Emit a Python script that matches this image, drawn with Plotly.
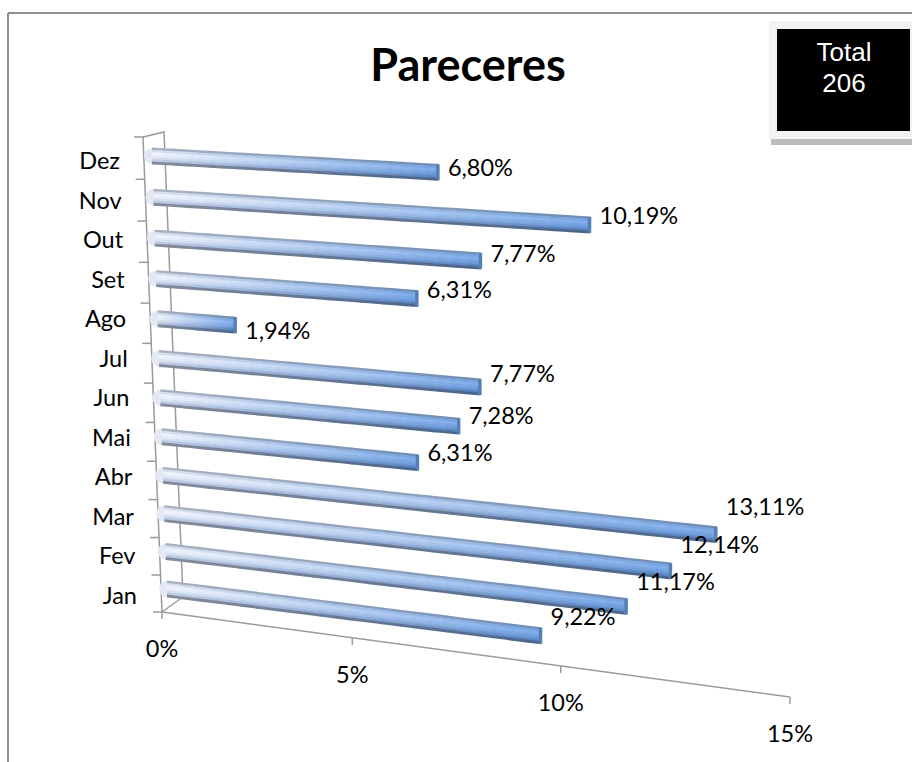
import numpy as np
import plotly.graph_objects as go

# ---- data ----
months = ["Jan", "Fev", "Mar", "Abr", "Mai", "Jun", "Jul", "Ago", "Set", "Out", "Nov", "Dez"]
shares = [9.22, 11.17, 12.14, 13.11, 6.31, 7.28, 7.77, 1.94, 6.31, 7.77, 10.19, 6.80]
value_ticks = [0, 5, 10, 15]
chart_title = "Pareceres"
total_label = "Total"
total_value = 206

# ---- perspective projection (value, category index) -> page pixels ----
def homography(src, dst):
    A, b = [], []
    for (u, v), (x, y) in zip(src, dst):
        A.append([u, v, 1, 0, 0, 0, -u * x, -v * x]); b.append(x)
        A.append([0, 0, 0, u, v, 1, -u * y, -v * y]); b.append(y)
    h = np.linalg.solve(np.array(A, float), np.array(b, float))
    return np.append(h, 1).reshape(3, 3)

def apply(H, u, v):
    w = H[2, 0] * u + H[2, 1] * v + H[2, 2]
    return (H[0, 0] * u + H[0, 1] * v + H[0, 2]) / w, (H[1, 0] * u + H[1, 1] * v + H[1, 2]) / w

BAR_H = homography([(0, 0), (15, 0), (0, 11), (15, 11)],
                   [(167, 589), (798, 668), (152, 156), (819, 194)])
AXIS_H = homography([(0, -0.5), (15, -0.5), (0, 11.5), (15, 11.5)],
                    [(162, 612), (790, 697), (143, 137), (823, 152)])

# ---- cylinder shading: rows across the bar, blended from start to end colour ----
start_rows = ["#a9b1bf", "#d8e0ee", "#f0f4fc", "#ebf0fb", "#dae3f3", "#bfcce4", "#858b9b"]
end_rows = ["#6f8db6", "#76a3e0", "#7eace9", "#74a2e2", "#6a99da", "#5a86c2", "#4a658d"]
row_offset = np.linspace(-7, 7, len(start_rows))
n_steps = 24

def rgb(c):
    return np.array([int(c[i:i + 2], 16) for i in (1, 3, 5)], float)

fig = go.Figure()

def line(xs, ys, color, width):
    fig.add_trace(go.Scatter(x=xs, y=ys, mode="lines", line=dict(color=color, width=width),
                             hoverinfo="skip", showlegend=False))

def text(x, y, s, size, color="#000000", family="Lato", pos="middle center", bold=False):
    t = f"<b>{s}</b>" if bold else s
    fig.add_trace(go.Scatter(x=[x], y=[y], mode="text", text=[t], textposition=pos,
                             textfont=dict(size=size, color=color, family=family),
                             hoverinfo="skip", showlegend=False))

# ---- axes ----
axis_col = "#9a9a9a"
x0, y0 = apply(AXIS_H, 0, -0.5)
xt, yt = apply(AXIS_H, 0, 11.5)
xs, ys = zip(*[apply(AXIS_H, v, -0.5) for v in np.linspace(0, 15, 16)])
line(list(xs), list(ys), axis_col, 1.5)
for v in value_ticks:
    tx, ty = apply(AXIS_H, v, -0.5)
    line([tx, tx], [ty, ty + 7], axis_col, 1.5)
    text(tx, ty + 39, f"{v}%", 23.5)
cat_edges = np.arange(-0.5, 11.6, 1)
xs, ys = zip(*[apply(AXIS_H, 0, c) for c in cat_edges])
line(list(xs), list(ys), axis_col, 1.5)
for c in cat_edges:
    tx, ty = apply(AXIS_H, 0, c)
    line([tx - 9, tx], [ty, ty], axis_col, 1.5)
# floor diagonal, back wall edge and top edge
line([x0, x0 + 21, xt + 21, xt], [y0, y0 - 15, yt - 5, yt], axis_col, 1.5)

# ---- bars ----
for i in range(len(shares)):
    sx, sy = apply(BAR_H, 0, i)
    fig.add_trace(go.Scatter(x=[sx], y=[sy], mode="markers",
                             marker=dict(size=16, color="#e3e8f3", line=dict(width=0)),
                             hoverinfo="skip", showlegend=False))

buckets = {}
for i, val in enumerate(shares):
    ts = np.linspace(0, 1, n_steps + 1)
    for k in range(n_steps):
        ax, ay = apply(BAR_H, val * ts[k], i)
        bx, by = apply(BAR_H, val * ts[k + 1], i)
        for r, off in enumerate(row_offset):
            d = buckets.setdefault((k, r), ([], []))
            d[0].extend([ax, bx + 0.6, None])
            d[1].extend([ay + off, by + off, None])

for (k, r), (xs, ys) in buckets.items():
    t = (k + 0.5) / n_steps
    c = rgb(start_rows[r]) * (1 - t) + rgb(end_rows[r]) * t
    line(xs, ys, f"rgb({c[0]:.0f},{c[1]:.0f},{c[2]:.0f})", 2.9)

for i, val in enumerate(shares):
    ex, ey = apply(BAR_H, val, i)
    line([ex, ex], [ey - 8, ey + 8], "#5580b5", 3.5)

# ---- category labels ----
for i, m in enumerate(months):
    text(137 - 17 * i / 11, 598 - 39.5 * i, m, 23.5, pos="middle left")

# ---- value labels (placed relative to each bar end) ----
label_dy = [-17, -22, -24, -26, -8, -8, -11, 8, -6, -5, -7, -2]
for i, val in enumerate(shares):
    ex, ey = apply(BAR_H, val, i)
    text(ex + 10, ey + label_dy[i], f"{val:.2f}%".replace(".", ","), 23.5, pos="middle right")

# ---- title and total box ----
text(468, 70, chart_title, 45, bold=True)
text(844, 54, total_label, 26, color="#ffffff", family="Liberation Sans")
text(844, 85, str(total_value), 26, color="#ffffff", family="Liberation Sans")

shapes = [
    dict(type="line", x0=8, x1=8, y0=13, y1=762, line=dict(color="#8f8f8f", width=2)),
    dict(type="line", x0=8, x1=912, y0=13, y1=13, line=dict(color="#8f8f8f", width=2)),
    dict(type="rect", x0=769, x1=912, y0=21, y1=139, fillcolor="#f2f2f2", line=dict(width=0), layer="below"),
    dict(type="rect", x0=771, x1=912, y0=139, y1=145, fillcolor="#bdbdbd", line=dict(width=0), layer="below"),
    dict(type="rect", x0=777, x1=910, y0=29, y1=131, fillcolor="#000000", line=dict(width=0), layer="below"),
]

fig.update_layout(
    width=912, height=762, margin=dict(l=0, r=0, t=0, b=0),
    paper_bgcolor="#ffffff", plot_bgcolor="#ffffff", showlegend=False, shapes=shapes,
    xaxis=dict(range=[0, 912], visible=False, fixedrange=True),
    yaxis=dict(range=[762, 0], visible=False, fixedrange=True),
)
fig.write_html("out.html", config={"displayModeBar": False},
               post_script="document.body.style.margin='0';document.documentElement.style.overflow='hidden';")
